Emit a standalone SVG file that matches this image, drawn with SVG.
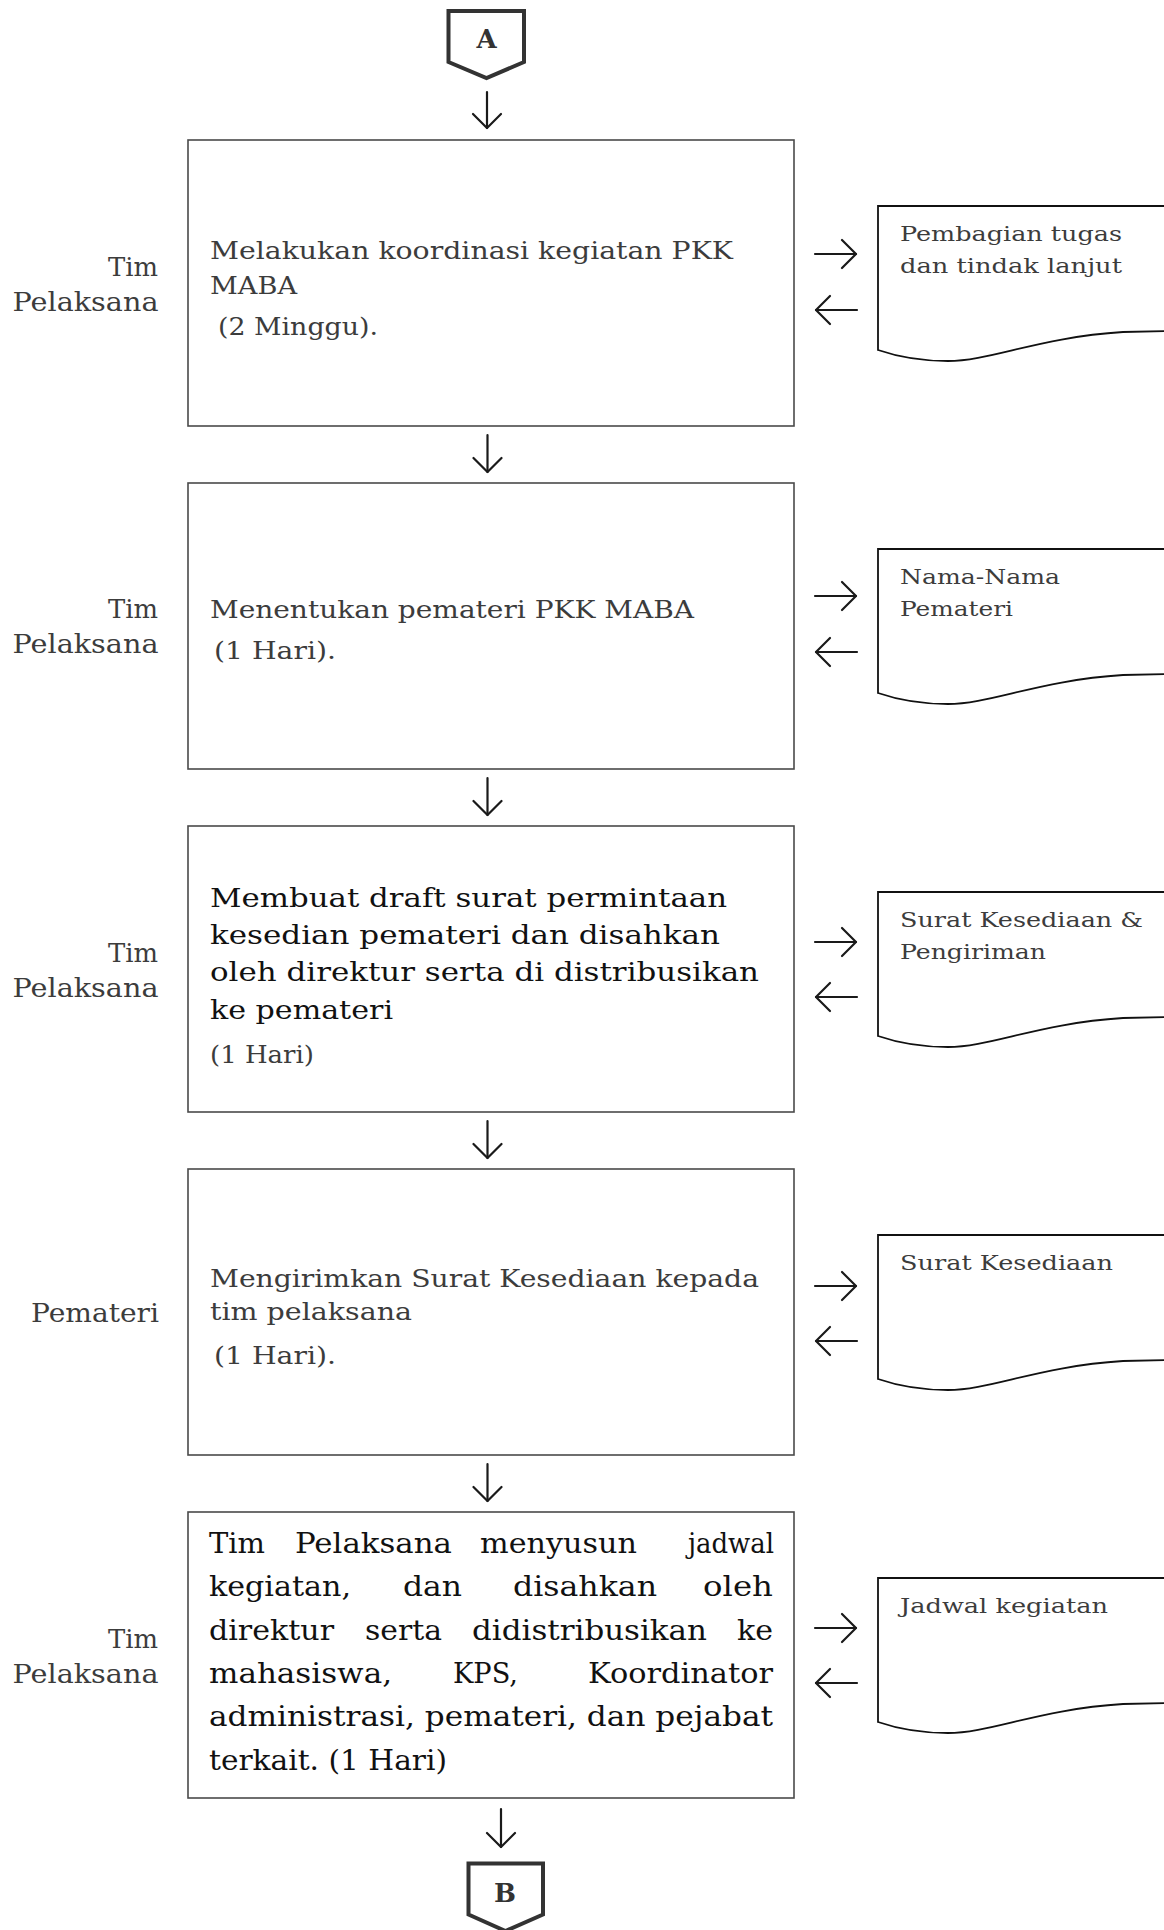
<svg xmlns="http://www.w3.org/2000/svg" width="1164" height="1930" viewBox="0 0 1164 1930">
<style>
.bg{fill:#fff}
.box{fill:#fff;stroke:#4a4a4a;stroke-width:1.6}
.doc{fill:#fff;stroke:#111;stroke-width:1.8}
.conn{fill:#fff;stroke:#333;stroke-width:4;stroke-linejoin:miter}
.arr{fill:none;stroke:#1a1a1a;stroke-width:2.2;stroke-linecap:round}
text{font-family:"DejaVu Serif","Liberation Serif",serif;fill:#3c3c3c}
.lbl{font-size:26px}
.bt{font-size:24px}
.bb{font-size:26px;fill:#111}
.b5{font-size:27px;fill:#111}
.dt{font-size:20px}
.ct{font-weight:bold;font-size:26px;fill:#333}
</style>
<defs>
<marker id="ah" viewBox="0 0 18 32" refX="16" refY="16" markerWidth="18" markerHeight="32" markerUnits="userSpaceOnUse" orient="auto">
<path d="M2,2 L16,16 L2,30" fill="none" stroke="#1a1a1a" stroke-width="2.2" stroke-linecap="round" stroke-linejoin="round"/>
</marker>
</defs>
<rect class="bg" x="0" y="0" width="1164" height="1930"/>

<g id="connectors">
<line class="arr" x1="487" y1="92" x2="487" y2="128" marker-end="url(#ah)"/>
<line class="arr" x1="487.5" y1="435" x2="487.5" y2="472" marker-end="url(#ah)"/>
<line class="arr" x1="487.5" y1="778" x2="487.5" y2="815" marker-end="url(#ah)"/>
<line class="arr" x1="487.5" y1="1121" x2="487.5" y2="1158" marker-end="url(#ah)"/>
<line class="arr" x1="487.5" y1="1464" x2="487.5" y2="1501" marker-end="url(#ah)"/>
<line class="arr" x1="501" y1="1809" x2="501" y2="1847" marker-end="url(#ah)"/>

<line class="arr" x1="815" y1="254" x2="856" y2="254" marker-end="url(#ah)"/>
<line class="arr" x1="857" y1="310" x2="816" y2="310" marker-end="url(#ah)"/>
<line class="arr" x1="815" y1="596" x2="856" y2="596" marker-end="url(#ah)"/>
<line class="arr" x1="857" y1="652" x2="816" y2="652" marker-end="url(#ah)"/>
<line class="arr" x1="815" y1="942" x2="856" y2="942" marker-end="url(#ah)"/>
<line class="arr" x1="857" y1="997" x2="816" y2="997" marker-end="url(#ah)"/>
<line class="arr" x1="815" y1="1286" x2="856" y2="1286" marker-end="url(#ah)"/>
<line class="arr" x1="857" y1="1341" x2="816" y2="1341" marker-end="url(#ah)"/>
<line class="arr" x1="815" y1="1628" x2="856" y2="1628" marker-end="url(#ah)"/>
<line class="arr" x1="857" y1="1683" x2="816" y2="1683" marker-end="url(#ah)"/>
</g>

<g id="conn-A">
<path class="conn" d="M448.5,11 H524 V62 L486.5,78 L448.5,62 Z"/>
<text class="ct" x="486.5" y="48" text-anchor="middle">A</text>
</g>

<g id="conn-B">
<path class="conn" d="M468.5,1863.5 H543 V1914.5 L505.5,1931 L468.5,1914.5 Z"/>
<text class="ct" x="505" y="1902" text-anchor="middle">B</text>
</g>

<!-- Step 1 -->
<g id="lbl1">
<text class="lbl" x="108" y="276" textLength="50" lengthAdjust="spacingAndGlyphs">Tim</text>
<text class="lbl" x="12.5" y="311" textLength="146" lengthAdjust="spacingAndGlyphs">Pelaksana</text>
</g>
<g id="step1">
<rect class="box" x="188" y="140" width="606" height="286"/>
<text class="bt" x="210" y="259" textLength="523" lengthAdjust="spacingAndGlyphs">Melakukan koordinasi kegiatan PKK</text>
<text class="bt" x="210" y="294" textLength="87" lengthAdjust="spacingAndGlyphs">MABA</text>
<text class="bt" x="218" y="335" textLength="160" lengthAdjust="spacingAndGlyphs">(2 Minggu).</text>
</g>
<g id="doc1">
<path class="doc" d="M1170,206 H878 V350 Q910,361 948,361 C990,361 1040,337 1123,332 L1170,331"/>
<text class="dt" x="900" y="241" textLength="222" lengthAdjust="spacingAndGlyphs">Pembagian tugas</text>
<text class="dt" x="900" y="273" textLength="222" lengthAdjust="spacingAndGlyphs">dan tindak lanjut</text>
</g>

<!-- Step 2 -->
<g id="lbl2">
<text class="lbl" x="108" y="618" textLength="50" lengthAdjust="spacingAndGlyphs">Tim</text>
<text class="lbl" x="12.5" y="653" textLength="146" lengthAdjust="spacingAndGlyphs">Pelaksana</text>
</g>
<g id="step2">
<rect class="box" x="188" y="483" width="606" height="286"/>
<text class="bt" x="210" y="618" textLength="484" lengthAdjust="spacingAndGlyphs">Menentukan pemateri PKK MABA</text>
<text class="bt" x="214" y="659" textLength="122" lengthAdjust="spacingAndGlyphs">(1 Hari).</text>
</g>
<g id="doc2">
<path class="doc" d="M1170,549 H878 V693 Q910,704 948,704 C990,704 1040,680 1123,675 L1170,674"/>
<text class="dt" x="900" y="584" textLength="160" lengthAdjust="spacingAndGlyphs">Nama-Nama</text>
<text class="dt" x="900" y="616" textLength="113" lengthAdjust="spacingAndGlyphs">Pemateri</text>
</g>

<!-- Step 3 -->
<g id="lbl3">
<text class="lbl" x="108" y="962" textLength="50" lengthAdjust="spacingAndGlyphs">Tim</text>
<text class="lbl" x="12.5" y="997" textLength="146" lengthAdjust="spacingAndGlyphs">Pelaksana</text>
</g>
<g id="step3">
<rect class="box" x="188" y="826" width="606" height="286"/>
<text class="bb" x="210" y="907" textLength="517" lengthAdjust="spacingAndGlyphs">Membuat draft surat permintaan</text>
<text class="bb" x="210" y="944" textLength="510" lengthAdjust="spacingAndGlyphs">kesedian pemateri dan disahkan</text>
<text class="bb" x="210" y="981" textLength="549" lengthAdjust="spacingAndGlyphs">oleh direktur serta di distribusikan</text>
<text class="bb" x="210" y="1019" textLength="183" lengthAdjust="spacingAndGlyphs">ke pemateri</text>
<text class="bt" x="210" y="1063" textLength="104" lengthAdjust="spacingAndGlyphs">(1 Hari)</text>
</g>
<g id="doc3">
<path class="doc" d="M1170,892 H878 V1036 Q910,1047 948,1047 C990,1047 1040,1023 1123,1018 L1170,1017"/>
<text class="dt" x="900" y="927" textLength="243" lengthAdjust="spacingAndGlyphs">Surat Kesediaan &amp;</text>
<text class="dt" x="900" y="959" textLength="146" lengthAdjust="spacingAndGlyphs">Pengiriman</text>
</g>

<!-- Step 4 -->
<g id="lbl4">
<text class="lbl" x="31" y="1322" textLength="128" lengthAdjust="spacingAndGlyphs">Pemateri</text>
</g>
<g id="step4">
<rect class="box" x="188" y="1169" width="606" height="286"/>
<text class="bt" x="210" y="1287" textLength="549" lengthAdjust="spacingAndGlyphs">Mengirimkan Surat Kesediaan kepada</text>
<text class="bt" x="210" y="1320" textLength="202" lengthAdjust="spacingAndGlyphs">tim pelaksana</text>
<text class="bt" x="214" y="1364" textLength="122" lengthAdjust="spacingAndGlyphs">(1 Hari).</text>
</g>
<g id="doc4">
<path class="doc" d="M1170,1235 H878 V1379 Q910,1390 948,1390 C990,1390 1040,1366 1123,1361 L1170,1360"/>
<text class="dt" x="900" y="1270" textLength="213" lengthAdjust="spacingAndGlyphs">Surat Kesediaan</text>
</g>

<!-- Step 5 -->
<g id="lbl5">
<text class="lbl" x="108" y="1648" textLength="50" lengthAdjust="spacingAndGlyphs">Tim</text>
<text class="lbl" x="12.5" y="1683" textLength="146" lengthAdjust="spacingAndGlyphs">Pelaksana</text>
</g>
<g id="step5">
<rect class="box" x="188" y="1512" width="606" height="286"/>
<text class="b5" x="209" y="1553" textLength="56" lengthAdjust="spacingAndGlyphs">Tim</text>
<text class="b5" x="295" y="1553" textLength="157" lengthAdjust="spacingAndGlyphs">Pelaksana</text>
<text class="b5" x="480" y="1553" textLength="157" lengthAdjust="spacingAndGlyphs">menyusun</text>
<text class="b5" x="688" y="1553" textLength="86" lengthAdjust="spacingAndGlyphs">jadwal</text>

<text class="b5" x="209" y="1596" textLength="142" lengthAdjust="spacingAndGlyphs">kegiatan,</text>
<text class="b5" x="403" y="1596" textLength="59" lengthAdjust="spacingAndGlyphs">dan</text>
<text class="b5" x="513" y="1596" textLength="144" lengthAdjust="spacingAndGlyphs">disahkan</text>
<text class="b5" x="703" y="1596" textLength="70" lengthAdjust="spacingAndGlyphs">oleh</text>

<text class="b5" x="209" y="1640" textLength="125" lengthAdjust="spacingAndGlyphs">direktur</text>
<text class="b5" x="365" y="1640" textLength="77" lengthAdjust="spacingAndGlyphs">serta</text>
<text class="b5" x="472" y="1640" textLength="235" lengthAdjust="spacingAndGlyphs">didistribusikan</text>
<text class="b5" x="737" y="1640" textLength="36" lengthAdjust="spacingAndGlyphs">ke</text>

<text class="b5" x="209" y="1683" textLength="183" lengthAdjust="spacingAndGlyphs">mahasiswa,</text>
<text class="b5" x="453" y="1683" textLength="65" lengthAdjust="spacingAndGlyphs">KPS,</text>
<text class="b5" x="588" y="1683" textLength="185" lengthAdjust="spacingAndGlyphs">Koordinator</text>

<text class="b5" x="209" y="1726" textLength="564" lengthAdjust="spacingAndGlyphs">administrasi, pemateri, dan pejabat</text>
<text class="b5" x="209" y="1770" textLength="238" lengthAdjust="spacingAndGlyphs">terkait. (1 Hari)</text>
</g>
<g id="doc5">
<path class="doc" d="M1170,1578 H878 V1722 Q910,1733 948,1733 C990,1733 1040,1709 1123,1704 L1170,1703"/>
<text class="dt" x="900" y="1613" textLength="208" lengthAdjust="spacingAndGlyphs">Jadwal kegiatan</text>
</g>
</svg>
